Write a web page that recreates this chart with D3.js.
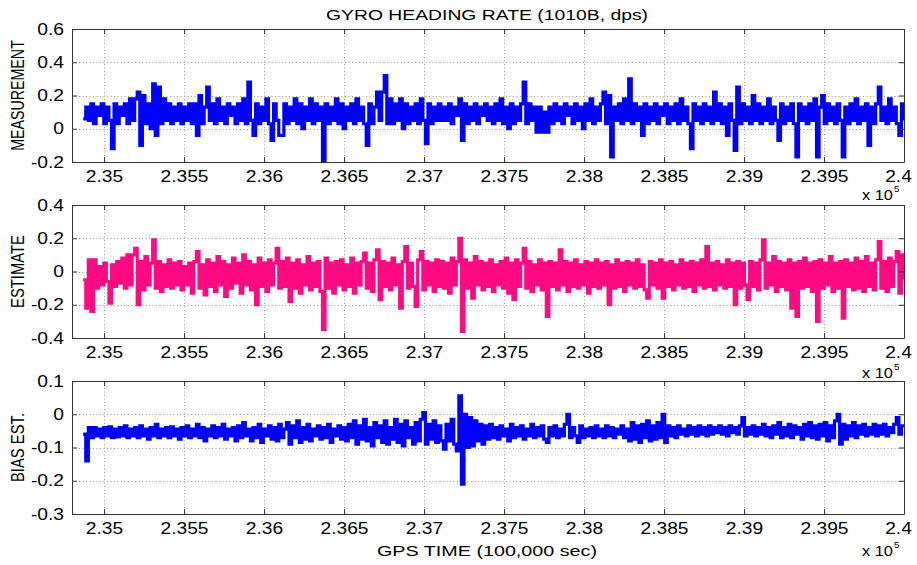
<!DOCTYPE html>
<html><head><meta charset="utf-8">
<script src="https://cdn.jsdelivr.net/npm/d3@7"></script>
<style>
body{margin:0;background:#fff}
text{font-family:"Liberation Sans",Arial,sans-serif;fill:#000}
</style>
</head><body>
<svg id="chart" width="917" height="565"></svg>
<script>
// ---- data ----
const sampleStart = 234870, sampleEnd = 240000;   // GPS seconds covered by the samples
const xDomain = [234800, 240000];
const xTicks = [235000,235500,236000,236500,237000,237500,238000,238500,239000,239500,240000];
const xTickLabels = ["2.35","2.355","2.36","2.365","2.37","2.375","2.38","2.385","2.39","2.395","2.4"];

const measurement = [
0.06,0.13,0.05,0.15,0.03,0.13,0.08,0.15,0.03,0.13,0.05,-0.12,0.15,0.03,0.13,0.08,0.15,0.03,0.18,0.05,
0.18,0.22,-0.10,0.20,0.03,0.15,0.00,0.27,-0.04,0.25,0.03,0.18,0.05,0.15,0.03,0.13,0.05,0.15,0.03,0.13,
0.05,0.15,0.03,0.15,-0.04,0.20,0.03,0.13,0.25,0.05,0.15,0.03,0.18,0.05,0.13,0.03,0.15,0.08,0.13,0.03,
0.15,0.05,0.18,0.03,0.28,0.05,-0.04,0.15,0.03,0.13,0.05,0.18,0.03,-0.07,0.15,0.05,-0.04,-0.04,0.15,0.03,
0.13,0.05,0.18,0.03,0.15,0.00,0.13,0.05,0.18,0.03,0.15,0.05,0.13,-0.20,0.15,0.03,0.13,0.05,0.18,0.03,
0.15,0.00,0.13,0.05,0.15,0.03,0.18,0.05,0.13,0.03,-0.10,0.15,0.03,0.13,0.22,0.05,0.22,0.32,0.03,0.18,
0.03,0.15,0.05,0.18,0.00,0.15,0.03,0.13,0.05,0.15,0.03,0.18,0.05,-0.09,0.15,0.03,0.13,0.05,0.15,0.05,
0.13,0.05,0.15,0.03,0.13,0.08,0.18,-0.07,0.15,0.03,0.13,0.05,0.15,0.03,0.13,0.08,0.15,0.05,0.13,0.03,
0.15,0.05,0.18,0.03,0.13,0.00,0.15,0.03,0.13,0.05,0.15,0.28,0.03,0.15,0.05,0.13,-0.02,0.13,-0.02,0.10,
-0.02,0.13,0.03,0.15,0.05,0.13,0.03,0.15,0.08,0.13,0.03,0.15,0.05,0.13,0.00,0.15,0.05,0.18,0.03,0.13,
0.05,0.15,0.22,0.03,0.20,-0.17,0.13,0.05,0.15,0.03,0.18,0.05,0.30,0.03,0.15,0.05,0.13,-0.04,0.15,0.03,
0.13,0.05,0.15,0.03,0.13,0.08,0.15,0.03,0.13,0.05,0.15,0.03,0.18,0.05,0.13,0.03,-0.12,0.15,0.05,0.13,
0.03,0.15,0.05,0.13,0.03,0.22,0.05,0.15,0.03,0.13,-0.04,0.15,0.05,-0.13,0.25,0.03,0.15,0.05,0.13,0.03,
0.20,0.05,0.15,0.03,0.13,0.05,0.18,0.03,0.13,0.05,-0.07,0.15,0.03,0.13,0.05,0.15,0.03,-0.17,0.15,0.05,
0.13,0.03,0.15,0.05,0.18,-0.17,0.13,0.20,0.03,0.15,0.05,0.13,0.03,0.15,0.05,-0.17,0.13,0.03,0.15,0.05,
0.18,0.03,0.13,0.05,0.15,-0.10,0.13,0.03,0.15,0.25,0.05,0.13,0.03,0.18,0.05,0.13,0.03,-0.04,0.15,0.05
];

const estimate = [
-0.05,-0.22,0.07,-0.24,0.07,-0.10,0.03,-0.08,0.05,-0.06,-0.19,0.04,-0.09,0.06,-0.07,0.08,-0.10,0.10,-0.08,0.10,
0.14,-0.20,0.06,-0.11,0.09,-0.08,0.05,0.19,-0.10,0.06,-0.12,0.04,-0.09,0.07,-0.10,0.05,-0.08,0.06,-0.11,0.03,
-0.08,0.05,-0.13,0.06,0.12,-0.10,0.04,-0.14,0.07,-0.09,0.05,-0.12,0.09,-0.08,0.06,-0.15,0.04,-0.10,0.08,-0.07,
0.05,-0.13,0.10,-0.08,0.06,-0.11,0.04,-0.20,0.08,-0.09,0.05,-0.12,0.07,-0.08,0.05,0.14,-0.10,0.06,-0.09,0.08,
-0.18,0.05,-0.10,0.07,-0.13,0.04,-0.08,0.09,-0.11,0.05,-0.09,0.06,-0.12,-0.35,0.08,-0.10,0.05,-0.13,0.06,-0.08,
0.07,-0.11,0.04,-0.09,0.08,-0.13,0.05,-0.08,0.06,0.11,-0.10,0.05,-0.12,0.07,0.13,-0.17,0.06,-0.09,0.05,-0.11,
0.08,-0.08,0.04,-0.22,0.06,0.15,-0.10,0.05,-0.09,-0.21,0.07,0.12,-0.11,0.06,-0.08,0.05,-0.12,0.07,-0.09,0.06,
-0.10,0.05,-0.13,0.08,-0.08,0.06,0.20,-0.36,0.07,-0.10,0.05,-0.16,0.09,-0.08,0.06,-0.11,0.05,-0.09,0.07,-0.12,
0.04,-0.08,0.06,-0.10,0.08,-0.13,0.05,-0.17,0.07,-0.09,0.05,0.14,-0.10,0.06,-0.12,0.04,-0.08,0.07,-0.11,0.05,
-0.27,0.06,-0.09,0.05,-0.11,0.13,-0.08,0.06,-0.12,0.05,-0.09,0.07,-0.10,0.04,-0.08,0.06,-0.13,0.05,-0.09,0.07,
-0.10,0.05,-0.08,0.06,-0.20,0.04,-0.10,0.07,-0.09,0.05,-0.12,0.06,-0.08,0.05,-0.10,0.07,-0.09,0.04,-0.11,-0.16,
0.06,-0.08,0.05,-0.10,0.07,-0.16,0.05,-0.09,0.06,-0.11,0.04,-0.08,0.07,-0.10,0.05,-0.09,0.06,-0.12,0.05,-0.08,
0.07,-0.10,0.15,-0.09,0.05,-0.11,0.06,-0.08,0.04,-0.10,0.07,-0.09,0.05,-0.20,0.06,-0.10,0.05,-0.08,-0.17,0.06,
-0.09,0.05,-0.11,0.07,0.19,-0.10,0.05,-0.08,0.09,-0.12,0.06,-0.09,0.05,-0.11,0.07,-0.22,0.05,-0.27,0.06,-0.10,
0.08,-0.09,0.05,-0.12,0.06,-0.30,0.07,-0.10,0.05,-0.08,0.09,-0.12,0.05,-0.10,0.06,-0.28,0.07,-0.09,0.05,-0.11,
0.08,-0.10,0.06,-0.12,0.09,-0.09,0.05,-0.11,0.07,0.18,-0.10,0.06,-0.12,0.08,-0.09,0.06,0.12,-0.13,0.10,-0.05
];

const biasEst = [
-0.06,-0.14,-0.04,-0.07,-0.04,-0.065,-0.045,-0.07,-0.04,-0.065,-0.038,-0.07,-0.045,-0.068,-0.04,-0.065,-0.035,-0.07,-0.045,-0.065,
-0.04,-0.07,-0.035,-0.065,-0.045,-0.075,-0.04,-0.065,-0.03,-0.07,-0.045,-0.065,-0.04,-0.07,-0.038,-0.065,-0.045,-0.075,-0.04,-0.065,
-0.035,-0.07,-0.045,-0.065,-0.03,-0.07,-0.04,-0.08,-0.045,-0.065,-0.035,-0.07,-0.04,-0.065,-0.03,-0.075,-0.045,-0.065,-0.04,-0.08,
-0.035,-0.07,-0.025,-0.065,-0.045,-0.08,-0.04,-0.07,-0.03,-0.085,-0.045,-0.065,-0.035,-0.075,-0.04,-0.08,-0.03,-0.07,-0.045,-0.025,
-0.09,-0.035,-0.07,-0.02,-0.085,-0.04,-0.075,-0.03,-0.08,-0.045,-0.065,-0.035,-0.075,-0.04,-0.07,-0.03,-0.085,-0.045,-0.065,-0.035,
-0.075,-0.04,-0.08,-0.03,-0.07,-0.02,-0.09,-0.035,-0.075,-0.015,-0.08,-0.04,-0.095,-0.025,-0.07,-0.035,-0.085,-0.02,-0.09,-0.04,
-0.075,-0.015,-0.085,-0.03,-0.095,-0.02,-0.07,-0.04,-0.09,-0.025,-0.08,-0.015,0.005,-0.09,-0.03,-0.075,-0.02,-0.085,-0.035,-0.08,
-0.105,-0.03,-0.08,-0.015,-0.09,-0.11,0.055,-0.21,0.0,-0.10,-0.01,-0.095,-0.02,-0.08,-0.03,-0.09,-0.035,-0.075,-0.03,-0.07,
-0.04,-0.075,-0.035,-0.065,-0.045,-0.08,-0.03,-0.07,-0.04,-0.065,-0.035,-0.075,-0.045,-0.065,-0.03,-0.07,-0.04,-0.065,-0.035,-0.075,
-0.085,-0.04,-0.065,-0.035,-0.07,-0.045,-0.065,-0.03,0.0,-0.07,-0.04,-0.065,-0.085,-0.035,-0.07,-0.045,-0.065,-0.04,-0.07,-0.035,
-0.065,-0.045,-0.07,-0.035,-0.065,-0.04,-0.07,-0.045,-0.06,-0.035,-0.07,-0.045,-0.08,-0.025,-0.075,-0.035,-0.085,-0.03,-0.07,-0.02,
-0.08,-0.035,-0.075,-0.025,-0.07,0.0,-0.085,-0.035,-0.065,-0.04,-0.07,-0.035,-0.06,-0.045,-0.065,-0.035,-0.06,-0.04,-0.065,-0.035,
-0.06,-0.04,-0.065,-0.035,-0.06,-0.04,-0.055,-0.035,-0.06,-0.04,-0.065,-0.035,-0.055,-0.04,-0.06,-0.035,-0.01,-0.065,-0.04,-0.06,
-0.035,-0.065,-0.04,-0.06,-0.03,-0.065,-0.04,-0.07,-0.035,-0.06,-0.025,-0.07,-0.04,-0.065,-0.03,-0.07,-0.035,-0.06,-0.04,-0.075,
-0.03,-0.065,-0.025,-0.07,-0.035,-0.075,-0.03,-0.065,-0.025,-0.08,-0.035,-0.07,-0.02,0.0,-0.09,-0.03,-0.075,-0.035,-0.065,-0.025,
-0.07,-0.035,-0.06,-0.03,-0.065,-0.04,-0.06,-0.03,-0.065,-0.035,-0.06,-0.03,-0.065,-0.04,-0.055,-0.03,-0.01,-0.06,-0.035,-0.04
];

const yLabels = ["MEASUREMENT","ESTIMATE","BIAS EST."];
const yDomains = [[-0.2,0.6],[-0.4,0.4],[-0.3,0.1]];
const yTicks = [[-0.2,0,0.2,0.4,0.6],[-0.4,-0.2,0,0.2,0.4],[-0.3,-0.2,-0.1,0,0.1]];
const yTickLabels = [["-0.2","0","0.2","0.4","0.6"],["-0.4","-0.2","0","0.2","0.4"],["-0.3","-0.2","-0.1","0","0.1"]];
const seriesColors = ["#0000ff","#ff0a82","#0000ff"];
const titleText = "GYRO HEADING RATE (1010B, dps)";
const xLabelText = "GPS TIME (100,000 sec)";

// ---- layout ----
const svg = d3.select("#chart");
const left = 72, right = 904;
const panelTops = [29, 205, 381], panelH = 133;
const series = [measurement, estimate, biasEst];
const STRETCH = 1.2;

function stretchText(sel, f){
  sel.each(function(){
    const w = this.getComputedTextLength();
    this.setAttribute("textLength", w*f);
    this.setAttribute("lengthAdjust","spacingAndGlyphs");
  });
}

const x = d3.scaleLinear().domain(xDomain).range([left, right]);

series.forEach((vals, p) => {
  const top = panelTops[p], bottom = top + panelH;
  const y = d3.scaleLinear().domain(yDomains[p]).range([bottom, top]);
  const g = svg.append("g");

  // grid
  const grid = g.append("g").attr("stroke","#999").attr("stroke-width",1).attr("stroke-dasharray","1,2.5");
  xTicks.slice(0,-1).forEach(t => grid.append("line")
    .attr("x1",Math.round(x(t))+0.5).attr("x2",Math.round(x(t))+0.5).attr("y1",top).attr("y2",bottom));
  yTicks[p].slice(1,-1).forEach(v => grid.append("line")
    .attr("x1",left).attr("x2",right).attr("y1",Math.round(y(v))+0.5).attr("y2",Math.round(y(v))+0.5));

  // data
  const clipId = "clip"+p;
  g.append("clipPath").attr("id",clipId).append("rect")
    .attr("x",left).attr("y",top).attr("width",right-left).attr("height",panelH);
  const n = vals.length;
  const times = d3.range(n).map(i => sampleStart + i*(sampleEnd-sampleStart)/(n-1));
  const line = d3.line().x((d,i)=>x(times[i])).y(d=>y(d)).curve(d3.curveStepAfter);
  g.append("path").datum(vals).attr("clip-path",`url(#${clipId})`)
    .attr("d",line).attr("fill","none").attr("stroke",seriesColors[p])
    .attr("stroke-width",3.2).attr("stroke-linejoin","miter").attr("stroke-linecap","butt");

  // axes (ticks inward, box on all sides)
  const tickLabel = (arr, ticks) => d => arr[ticks.indexOf(d)];
  const axB = g.append("g").attr("transform",`translate(0,${bottom})`)
    .call(d3.axisBottom(x).tickValues(xTicks).tickFormat(tickLabel(xTickLabels,xTicks)).tickSizeInner(-5).tickSizeOuter(0).tickPadding(9));
  const axT = g.append("g").attr("transform",`translate(0,${top})`)
    .call(d3.axisTop(x).tickValues(xTicks).tickFormat("").tickSizeInner(-5).tickSizeOuter(0));
  const axL = g.append("g").attr("transform",`translate(${left},0)`)
    .call(d3.axisLeft(y).tickValues(yTicks[p]).tickFormat(tickLabel(yTickLabels[p],yTicks[p])).tickSizeInner(-5).tickSizeOuter(0).tickPadding(8));
  const axR = g.append("g").attr("transform",`translate(${right},0)`)
    .call(d3.axisRight(y).tickValues(yTicks[p]).tickFormat("").tickSizeInner(-5).tickSizeOuter(0));
  [axB,axT,axL,axR].forEach(a => {
    a.select(".domain").attr("stroke","#333").attr("stroke-width",1);
    a.selectAll(".tick line").attr("stroke","#333");
  });
  [axB,axL].forEach(a => a.selectAll("text").attr("font-size",16).attr("fill","#000")
    .style("font-family",'"Liberation Sans",Arial,sans-serif'));
  axB.selectAll("text").attr("dy","0.71em");
  // last label sits slightly inside, as in the figure
  axB.selectAll(".tick").filter(d => d === xTicks[xTicks.length-1]).select("text").attr("dx",-6);
  stretchText(axB.selectAll("text"), STRETCH);
  stretchText(axL.selectAll("text"), STRETCH);

  // y label
  const yl = g.append("text").text(yLabels[p]).attr("font-size",15).attr("text-anchor","middle")
    .attr("transform",`translate(${24},${(top+bottom)/2}) scale(1.25,1) rotate(-90)`);
  stretchText(yl, [111/117,71/72,72/73][p] || 1);

  // x 10^5
  const ex = g.append("text").attr("x",862).attr("y",bottom+[38,40,42][p]).attr("font-size",15);
  ex.append("tspan").text("x 10");
  ex.append("tspan").text("5").attr("font-size",9).attr("dy",-8).attr("dx",1);
  stretchText(ex, 1.12);
});

// title and x label
const tt = svg.append("text").attr("x",487).attr("y",19.5).attr("text-anchor","middle").attr("font-size",15).text(titleText);
tt.attr("textLength",322).attr("lengthAdjust","spacingAndGlyphs");
const xl = svg.append("text").attr("x",487).attr("y",556).attr("text-anchor","middle").attr("font-size",15.5).text(xLabelText);
xl.attr("textLength",220).attr("lengthAdjust","spacingAndGlyphs");
</script>
</body></html>
